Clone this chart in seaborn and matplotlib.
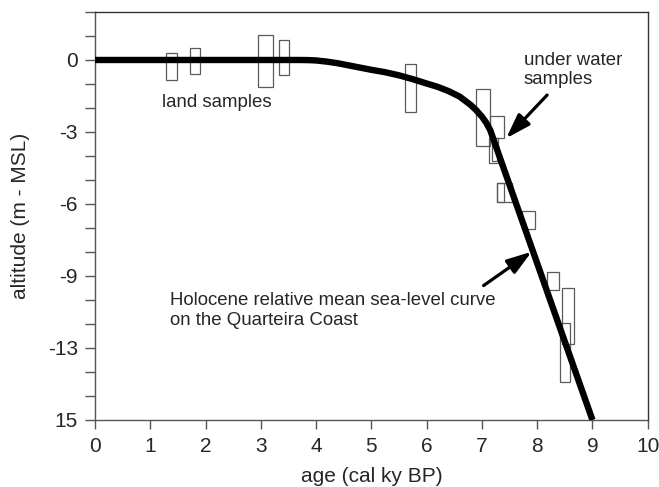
import matplotlib
matplotlib.use("Agg")
import matplotlib.pyplot as plt
from matplotlib.patches import Rectangle
import seaborn as sns
import pandas as pd

# ---- data ----
curve_age = [0.0, 3.7, 3.85, 4.0, 4.2, 4.4, 4.6, 4.8, 5.0, 5.25, 5.5, 5.75, 6.0, 6.2,
             6.4, 6.6, 6.8, 6.9, 7.0, 7.08, 7.15, 7.22, 9.0]
curve_alt = [0.0, 0.0, -0.005, -0.02, -0.07, -0.14, -0.23, -0.32, -0.41, -0.51, -0.64,
             -0.80, -0.98, -1.12, -1.30, -1.53, -1.88, -2.10, -2.36, -2.62, -2.92, -3.38, -15.0]

box_age_min = [1.29, 1.72, 2.95, 3.33, 5.61, 6.89, 7.15, 7.12, 7.18, 7.28, 7.28, 7.73, 8.18, 8.45, 8.41]
box_age_max = [1.49, 1.90, 3.22, 3.51, 5.80, 7.15, 7.40, 7.29, 7.27, 7.55, 7.40, 7.96, 8.39, 8.67, 8.60]
box_alt_top = [0.28, 0.51, 1.03, 0.83, -0.17, -1.22, -2.33, -3.26, -3.42, -5.14, -5.14, -6.28, -8.82, -9.51, -10.97]
box_alt_bot = [-0.85, -0.58, -1.14, -0.63, -2.18, -3.57, -3.25, -4.30, -4.20, -5.93, -5.93, -7.05, -9.58, -11.85, -13.43]

x_ticks = list(range(0, 11))
y_ticks = list(range(-15, 3))
y_label_pos = [0, -3, -6, -9, -12, -15]
y_label_txt = ["0", "-3", "-6", "-9", "-13", "15"]

# ---- plot ----
sns.set_style("white")
plt.rcParams["font.family"] = ["Liberation Sans", "DejaVu Sans"]

fig = plt.figure(figsize=(6.59, 4.87), dpi=100)
ax = fig.add_axes([0.1442, 0.1376, 0.8387, 0.8378])

for a0, a1, t, b in zip(box_age_min, box_age_max, box_alt_top, box_alt_bot):
    ax.add_patch(Rectangle((a0, b), a1 - a0, t - b, fill=False,
                           edgecolor="#5a5a5a", lw=0.9, zorder=2))

df = pd.DataFrame({"age": curve_age, "alt": curve_alt})
sns.lineplot(data=df, x="age", y="alt", sort=False, color="black", lw=4.6,
             ax=ax, zorder=3, solid_joinstyle="round", solid_capstyle="butt")

ax.set_xlim(0, 10)
ax.set_ylim(-15, 2)
ax.set_xticks(x_ticks)
ax.set_xticklabels([str(v) for v in x_ticks])
ax.set_yticks(y_ticks)
ax.set_yticklabels([y_label_txt[y_label_pos.index(v)] if v in y_label_pos else "" for v in y_ticks])

ax.tick_params(axis="x", direction="out", length=6.5, width=1.0, color="#555555",
               labelsize=15, pad=6, bottom=True)
ax.tick_params(axis="y", direction="out", length=7.2, width=1.0, color="#555555",
               labelsize=15, pad=5, left=True)

for s in ["left", "bottom"]:
    ax.spines[s].set_color("#555555")
    ax.spines[s].set_linewidth(1.0)
for s in ["top", "right"]:
    ax.spines[s].set_color("#333333")
    ax.spines[s].set_linewidth(1.0)

ax.set_xlabel("age (cal ky BP)", fontsize=15, labelpad=8)
ax.set_ylabel("altitude (m - MSL)", fontsize=15, labelpad=13)

ax.text(2.2, -1.79, "land samples", fontsize=13.4, ha="center", va="center")
ax.text(7.76, -0.42, "under water\nsamples", fontsize=13.4, ha="left", va="center",
        linespacing=1.2)
ax.text(1.36, -10.44, "Holocene relative mean sea-level curve\non the Quarteira Coast",
        fontsize=13.4, ha="left", va="center", linespacing=1.2)

arrow_style = dict(arrowstyle="-|>,head_length=1.0,head_width=0.33", lw=2.3,
                   color="black", mutation_scale=15, shrinkA=0, shrinkB=0)
ax.annotate("", xy=(7.44, -3.26), xytext=(8.18, -1.46), arrowprops=arrow_style, zorder=4)
ax.annotate("", xy=(7.90, -7.99), xytext=(7.03, -9.40), arrowprops=arrow_style, zorder=4)

fig.savefig("out.png", dpi=100)
